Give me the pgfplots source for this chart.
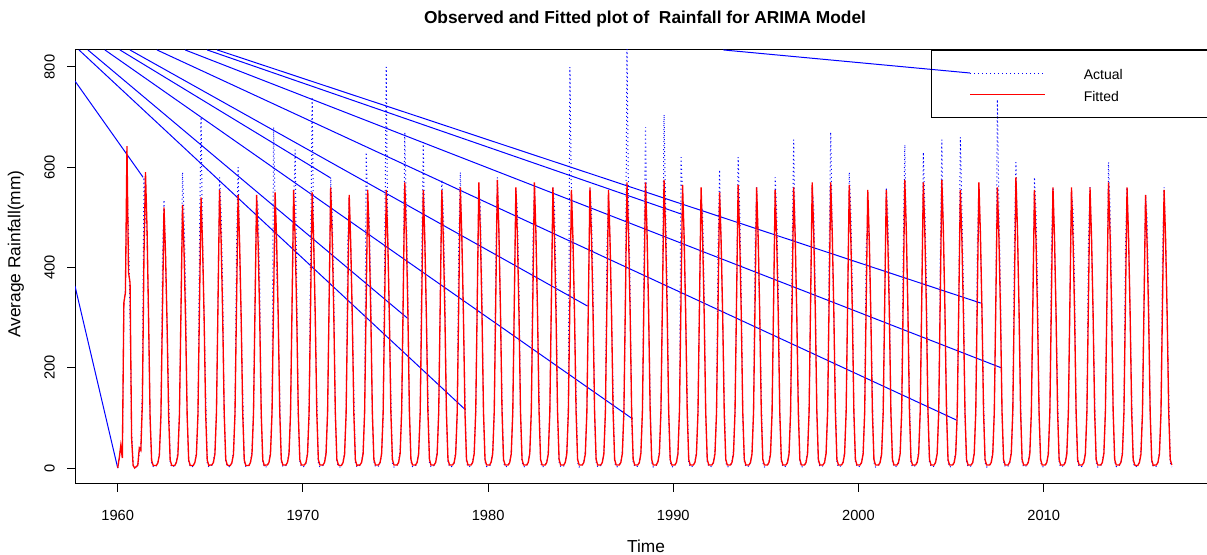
\documentclass[border=0pt]{standalone}
\usepackage{fontspec}
\setmainfont{Liberation Sans}
\usepackage{pgfplots}
\pgfplotsset{compat=1.18}
\usepackage{pgfplotstable}

\pgfplotstableread[row sep=\\]{
t a f\\
1960.000 0 0\\1960.083 18 20\\1960.167 42 45\\1960.250 22 20\\1960.333 320 330\\1960.417 360 350\\1960.500 565 642\\1960.583 470 390\\1960.667 300 370\\1960.750 75 60\\1960.833 6 5\\1960.917 2 0\\
1961.000 2 3\\1961.083 4 5\\1961.167 30 40\\1961.250 45 35\\1961.333 160 130\\1961.417 580 420\\1961.500 500 590\\1961.583 460 480\\1961.667 290 300\\1961.750 90 100\\1961.833 10 15\\1961.917 3 5\\
1962.000 2 5\\1962.083 4 5\\1962.167 10 10\\1962.250 30 26\\1962.333 95 104\\1962.417 420 312\\1962.500 535 520\\1962.583 420 426\\1962.667 280 286\\1962.750 150 104\\1962.833 10 16\\1962.917 2 5\\
1963.000 3 5\\1963.083 5 5\\1963.167 12 11\\1963.250 35 26\\1963.333 110 105\\1963.417 320 315\\1963.500 590 525\\1963.583 500 431\\1963.667 360 289\\1963.750 100 105\\1963.833 12 16\\1963.917 3 5\\
1964.000 2 5\\1964.083 4 5\\1964.167 11 11\\1964.250 30 27\\1964.333 100 108\\1964.417 450 324\\1964.500 700 540\\1964.583 450 443\\1964.667 300 297\\1964.750 150 108\\1964.833 11 16\\1964.917 2 5\\
1965.000 3 6\\1965.083 6 6\\1965.167 12 11\\1965.250 36 28\\1965.333 115 111\\1965.417 350 333\\1965.500 580 555\\1965.583 510 455\\1965.667 360 305\\1965.750 105 111\\1965.833 14 17\\1965.917 4 6\\
1966.000 2 5\\1966.083 5 5\\1966.167 10 11\\1966.250 32 27\\1966.333 105 109\\1966.417 440 327\\1966.500 600 545\\1966.583 430 447\\1966.667 290 300\\1966.750 150 109\\1966.833 12 16\\1966.917 3 5\\
1967.000 3 5\\1967.083 5 5\\1967.167 12 11\\1967.250 34 27\\1967.333 110 109\\1967.417 335 327\\1967.500 540 545\\1967.583 520 447\\1967.667 370 300\\1967.750 100 109\\1967.833 10 16\\1967.917 2 5\\
1968.000 2 6\\1968.083 4 6\\1968.167 11 11\\1968.250 35 28\\1968.333 120 110\\1968.417 680 330\\1968.500 520 550\\1968.583 390 451\\1968.667 295 303\\1968.750 150 110\\1968.833 12 17\\1968.917 3 6\\
1969.000 3 6\\1969.083 5 6\\1969.167 12 11\\1969.250 33 28\\1969.333 105 111\\1969.417 330 333\\1969.500 520 555\\1969.583 635 455\\1969.667 360 305\\1969.750 100 111\\1969.833 12 17\\1969.917 3 6\\
1970.000 2 6\\1970.083 4 6\\1970.167 10 11\\1970.250 30 28\\1970.333 100 110\\1970.417 430 330\\1970.500 740 550\\1970.583 450 451\\1970.667 300 303\\1970.750 140 110\\1970.833 10 17\\1970.917 2 6\\
1971.000 3 6\\1971.083 5 6\\1971.167 12 11\\1971.250 36 28\\1971.333 110 112\\1971.417 340 336\\1971.500 580 560\\1971.583 500 459\\1971.667 350 308\\1971.750 105 112\\1971.833 12 17\\1971.917 3 6\\
1972.000 2 5\\1972.083 5 5\\1972.167 11 11\\1972.250 32 27\\1972.333 105 109\\1972.417 450 327\\1972.500 540 545\\1972.583 440 447\\1972.667 295 300\\1972.750 150 109\\1972.833 11 16\\1972.917 2 5\\
1973.000 3 6\\1973.083 6 6\\1973.167 12 11\\1973.250 35 28\\1973.333 115 111\\1973.417 630 333\\1973.500 520 555\\1973.583 500 455\\1973.667 360 305\\1973.750 100 111\\1973.833 12 17\\1973.917 3 6\\
1974.000 2 6\\1974.083 4 6\\1974.167 10 11\\1974.250 30 28\\1974.333 100 111\\1974.417 420 333\\1974.500 800 555\\1974.583 450 455\\1974.667 300 305\\1974.750 145 111\\1974.833 10 17\\1974.917 2 6\\
1975.000 3 6\\1975.083 5 6\\1975.167 12 11\\1975.250 35 29\\1975.333 110 114\\1975.417 340 342\\1975.500 670 570\\1975.583 520 467\\1975.667 360 314\\1975.750 105 114\\1975.833 12 17\\1975.917 3 6\\
1976.000 2 6\\1976.083 4 6\\1976.167 11 11\\1976.250 33 28\\1976.333 105 111\\1976.417 440 333\\1976.500 650 555\\1976.583 445 455\\1976.667 300 305\\1976.750 150 111\\1976.833 11 17\\1976.917 2 6\\
1977.000 3 6\\1977.083 5 6\\1977.167 12 11\\1977.250 34 28\\1977.333 110 111\\1977.417 330 333\\1977.500 575 555\\1977.583 510 455\\1977.667 365 305\\1977.750 100 111\\1977.833 12 17\\1977.917 3 6\\
1978.000 2 6\\1978.083 5 6\\1978.167 10 11\\1978.250 32 28\\1978.333 105 112\\1978.417 450 336\\1978.500 590 560\\1978.583 450 459\\1978.667 300 308\\1978.750 150 112\\1978.833 11 17\\1978.917 2 6\\
1979.000 3 6\\1979.083 6 6\\1979.167 12 11\\1979.250 35 29\\1979.333 110 114\\1979.417 340 342\\1979.500 560 570\\1979.583 520 467\\1979.667 360 314\\1979.750 105 114\\1979.833 12 17\\1979.917 3 6\\
1980.000 2 6\\1980.083 4 6\\1980.167 11 12\\1980.250 33 29\\1980.333 105 115\\1980.417 430 345\\1980.500 580 575\\1980.583 470 472\\1980.667 310 316\\1980.750 140 115\\1980.833 11 17\\1980.917 2 6\\
1981.000 3 6\\1981.083 5 6\\1981.167 12 11\\1981.250 34 28\\1981.333 110 112\\1981.417 335 336\\1981.500 555 560\\1981.583 510 459\\1981.667 360 308\\1981.750 105 112\\1981.833 12 17\\1981.917 3 6\\
1982.000 2 6\\1982.083 5 6\\1982.167 10 11\\1982.250 32 29\\1982.333 105 114\\1982.417 450 342\\1982.500 565 570\\1982.583 460 467\\1982.667 305 314\\1982.750 150 114\\1982.833 11 17\\1982.917 2 6\\
1983.000 3 6\\1983.083 6 6\\1983.167 12 11\\1983.250 35 28\\1983.333 110 112\\1983.417 335 336\\1983.500 560 560\\1983.583 520 459\\1983.667 370 308\\1983.750 105 112\\1983.833 12 17\\1983.917 3 6\\
1984.000 2 6\\1984.083 4 6\\1984.167 11 11\\1984.250 33 28\\1984.333 120 111\\1984.417 800 333\\1984.500 540 555\\1984.583 445 455\\1984.667 300 305\\1984.750 150 111\\1984.833 11 17\\1984.917 2 6\\
1985.000 3 6\\1985.083 5 6\\1985.167 12 11\\1985.250 34 28\\1985.333 110 112\\1985.417 335 336\\1985.500 555 560\\1985.583 510 459\\1985.667 355 308\\1985.750 105 112\\1985.833 12 17\\1985.917 3 6\\
1986.000 2 6\\1986.083 5 6\\1986.167 10 11\\1986.250 32 28\\1986.333 105 111\\1986.417 440 333\\1986.500 540 555\\1986.583 450 455\\1986.667 300 305\\1986.750 150 111\\1986.833 11 17\\1986.917 2 6\\
1987.000 3 6\\1987.083 6 6\\1987.167 12 11\\1987.250 35 29\\1987.333 110 114\\1987.417 340 342\\1987.500 840 570\\1987.583 520 467\\1987.667 360 314\\1987.750 105 114\\1987.833 12 17\\1987.917 3 6\\
1988.000 2 6\\1988.083 4 6\\1988.167 11 11\\1988.250 33 29\\1988.333 105 114\\1988.417 430 342\\1988.500 680 570\\1988.583 460 467\\1988.667 305 314\\1988.750 145 114\\1988.833 11 17\\1988.917 2 6\\
1989.000 3 6\\1989.083 5 6\\1989.167 12 12\\1989.250 34 29\\1989.333 110 115\\1989.417 345 345\\1989.500 705 575\\1989.583 520 472\\1989.667 365 316\\1989.750 105 115\\1989.833 12 17\\1989.917 3 6\\
1990.000 2 6\\1990.083 5 6\\1990.167 10 11\\1990.250 32 28\\1990.333 115 113\\1990.417 620 339\\1990.500 545 565\\1990.583 455 463\\1990.667 305 311\\1990.750 150 113\\1990.833 11 17\\1990.917 2 6\\
1991.000 3 6\\1991.083 6 6\\1991.167 12 11\\1991.250 35 28\\1991.333 110 112\\1991.417 335 336\\1991.500 530 560\\1991.583 510 459\\1991.667 360 308\\1991.750 105 112\\1991.833 12 17\\1991.917 3 6\\
1992.000 2 6\\1992.083 4 6\\1992.167 11 11\\1992.250 33 28\\1992.333 105 110\\1992.417 440 330\\1992.500 595 550\\1992.583 445 451\\1992.667 300 303\\1992.750 150 110\\1992.833 11 17\\1992.917 2 6\\
1993.000 3 6\\1993.083 5 6\\1993.167 12 11\\1993.250 34 28\\1993.333 110 113\\1993.417 340 339\\1993.500 620 565\\1993.583 520 463\\1993.667 360 311\\1993.750 105 113\\1993.833 12 17\\1993.917 3 6\\
1994.000 2 6\\1994.083 5 6\\1994.167 10 11\\1994.250 32 28\\1994.333 105 112\\1994.417 450 336\\1994.500 560 560\\1994.583 450 459\\1994.667 300 308\\1994.750 150 112\\1994.833 11 17\\1994.917 2 6\\
1995.000 3 6\\1995.083 6 6\\1995.167 12 11\\1995.250 35 28\\1995.333 110 111\\1995.417 335 333\\1995.500 580 555\\1995.583 510 455\\1995.667 360 305\\1995.750 105 111\\1995.833 12 17\\1995.917 3 6\\
1996.000 2 6\\1996.083 4 6\\1996.167 11 11\\1996.250 33 28\\1996.333 105 112\\1996.417 430 336\\1996.500 655 560\\1996.583 455 459\\1996.667 305 308\\1996.750 145 112\\1996.833 11 17\\1996.917 2 6\\
1997.000 3 6\\1997.083 5 6\\1997.167 12 11\\1997.250 34 29\\1997.333 110 114\\1997.417 340 342\\1997.500 560 570\\1997.583 520 467\\1997.667 365 314\\1997.750 105 114\\1997.833 12 17\\1997.917 3 6\\
1998.000 2 6\\1998.083 5 6\\1998.167 10 11\\1998.250 32 29\\1998.333 105 114\\1998.417 445 342\\1998.500 670 570\\1998.583 460 467\\1998.667 305 314\\1998.750 150 114\\1998.833 11 17\\1998.917 2 6\\
1999.000 3 6\\1999.083 6 6\\1999.167 12 11\\1999.250 35 28\\1999.333 110 113\\1999.417 340 339\\1999.500 590 565\\1999.583 515 463\\1999.667 360 311\\1999.750 105 113\\1999.833 12 17\\1999.917 3 6\\
2000.000 2 6\\2000.083 4 6\\2000.167 11 11\\2000.250 33 28\\2000.333 105 111\\2000.417 440 333\\2000.500 500 555\\2000.583 450 455\\2000.667 300 305\\2000.750 150 111\\2000.833 11 17\\2000.917 2 6\\
2001.000 3 6\\2001.083 5 6\\2001.167 12 11\\2001.250 34 28\\2001.333 110 111\\2001.417 335 333\\2001.500 560 555\\2001.583 510 455\\2001.667 360 305\\2001.750 105 111\\2001.833 12 17\\2001.917 3 6\\
2002.000 2 6\\2002.083 5 6\\2002.167 10 12\\2002.250 32 29\\2002.333 105 115\\2002.417 440 345\\2002.500 645 575\\2002.583 465 472\\2002.667 310 316\\2002.750 150 115\\2002.833 11 17\\2002.917 2 6\\
2003.000 3 6\\2003.083 6 6\\2003.167 12 11\\2003.250 35 29\\2003.333 110 114\\2003.417 340 342\\2003.500 630 570\\2003.583 520 467\\2003.667 365 314\\2003.750 105 114\\2003.833 12 17\\2003.917 3 6\\
2004.000 2 6\\2004.083 4 6\\2004.167 11 12\\2004.250 33 29\\2004.333 105 115\\2004.417 430 345\\2004.500 655 575\\2004.583 465 472\\2004.667 310 316\\2004.750 145 115\\2004.833 11 17\\2004.917 2 6\\
2005.000 3 6\\2005.083 5 6\\2005.167 12 11\\2005.250 34 28\\2005.333 110 111\\2005.417 335 333\\2005.500 660 555\\2005.583 510 455\\2005.667 360 305\\2005.750 105 111\\2005.833 12 17\\2005.917 3 6\\
2006.000 2 6\\2006.083 5 6\\2006.167 10 11\\2006.250 32 29\\2006.333 105 114\\2006.417 450 342\\2006.500 560 570\\2006.583 460 467\\2006.667 305 314\\2006.750 150 114\\2006.833 11 17\\2006.917 2 6\\
2007.000 3 6\\2007.083 6 6\\2007.167 12 11\\2007.250 35 28\\2007.333 110 112\\2007.417 335 336\\2007.500 735 560\\2007.583 515 459\\2007.667 360 308\\2007.750 105 112\\2007.833 12 17\\2007.917 3 6\\
2008.000 2 6\\2008.083 4 6\\2008.167 11 12\\2008.250 33 29\\2008.333 105 116\\2008.417 440 348\\2008.500 610 580\\2008.583 470 476\\2008.667 315 319\\2008.750 150 116\\2008.833 11 17\\2008.917 2 6\\
2009.000 3 6\\2009.083 5 6\\2009.167 12 11\\2009.250 34 28\\2009.333 110 111\\2009.417 335 333\\2009.500 580 555\\2009.583 510 455\\2009.667 360 305\\2009.750 105 111\\2009.833 12 17\\2009.917 3 6\\
2010.000 2 6\\2010.083 5 6\\2010.167 10 11\\2010.250 32 28\\2010.333 105 112\\2010.417 440 336\\2010.500 560 560\\2010.583 455 459\\2010.667 305 308\\2010.750 150 112\\2010.833 11 17\\2010.917 2 6\\
2011.000 3 6\\2011.083 6 6\\2011.167 12 11\\2011.250 35 28\\2011.333 110 112\\2011.417 335 336\\2011.500 550 560\\2011.583 515 459\\2011.667 365 308\\2011.750 105 112\\2011.833 12 17\\2011.917 3 6\\
2012.000 2 6\\2012.083 4 6\\2012.167 11 11\\2012.250 33 28\\2012.333 105 112\\2012.417 450 336\\2012.500 560 560\\2012.583 455 459\\2012.667 305 308\\2012.750 150 112\\2012.833 11 17\\2012.917 2 6\\
2013.000 3 6\\2013.083 5 6\\2013.167 12 11\\2013.250 34 29\\2013.333 110 114\\2013.417 340 342\\2013.500 610 570\\2013.583 520 467\\2013.667 360 314\\2013.750 105 114\\2013.833 12 17\\2013.917 3 6\\
2014.000 2 6\\2014.083 5 6\\2014.167 10 11\\2014.250 32 28\\2014.333 105 112\\2014.417 440 336\\2014.500 560 560\\2014.583 455 459\\2014.667 305 308\\2014.750 150 112\\2014.833 11 17\\2014.917 2 6\\
2015.000 3 5\\2015.083 6 5\\2015.167 12 11\\2015.250 35 27\\2015.333 110 109\\2015.417 325 327\\2015.500 545 545\\2015.583 500 447\\2015.667 355 300\\2015.750 105 109\\2015.833 12 16\\2015.917 3 5\\
2016.000 2 6\\2016.083 4 6\\2016.167 11 11\\2016.250 33 28\\2016.333 105 111\\2016.417 430 333\\2016.500 560 555\\2016.583 450 455\\2016.667 300 305\\2016.750 150 111\\2016.833 11 17\\2016.917 2 6\\
}\rain

\begin{document}
\begin{tikzpicture}
\begin{axis}[
  at={(56.25pt,53.25pt)}, anchor=south west,
  scale only axis, width=855pt, height=325.5pt,
  xmin=1957.694, xmax=2019.25, ymin=-31.9, ymax=833.9,
  xtick={1960,1970,1980,1990,2000,2010},
  ytick={0,200,400,600,800},
  minor tick num=0,
  tick align=outside, major tick length=6pt,
  xtick pos=bottom, ytick pos=left,
  tick style={black, line width=0.75pt},
  axis line style={black, line width=0.75pt},
  /pgf/number format/1000 sep={},
  /pgf/number format/assume math mode=true,
  ticklabel style={font=\fontsize{11}{13}\selectfont},
  xticklabel style={yshift=-10.5pt},
  yticklabel style={rotate=90, anchor=south, inner ysep=8.9pt},
  xlabel={Time}, ylabel={Average Rainfall(mm)},
  label style={font=\fontsize{13}{15}\selectfont},
  xlabel style={at={(axis description cs:0.5009,-0.1429)}, anchor=center},
  ylabel style={at={(axis description cs:-0.0518,0.53)}, anchor=center},
  title={Observed and Fitted plot of\ \ Rainfall for ARIMA Model},
  title style={at={(axis description cs:0.5,1.053)}, anchor=center, font=\bfseries\fontsize{13}{15}\selectfont},
  legend style={at={(axis cs:2003.9,833.9)}, anchor=north west, draw=black, line width=0.75pt, fill=none,
    inner xsep=28.7pt, inner ysep=11.5pt, row sep=5pt, font=\fontsize{10.5}{12}\selectfont,
    nodes={inner sep=0pt, text height=10.6pt, text depth=0.5pt},
    /tikz/every odd column/.append style={column sep=28.5pt}},
  legend cell align=left,
  legend image code/.code={\draw[#1] (0pt,0pt) -- (56.25pt,0pt);},
]
\addplot[blue, line width=0.75pt, dash pattern=on 0.75pt off 2.25pt] table[x=t,y=a]{\rain};
\addlegendentry{\makebox[100pt][l]{Actual}}
\addplot[blue, line width=0.75pt, forget plot] coordinates {(1957.694,363) (1960.0,0)};
\addplot[blue, line width=0.75pt, forget plot] coordinates {(1957.694,772) (1961.37,580)};
\addplot[blue, line width=0.75pt, forget plot] coordinates {(1957.91,834) (1978.78,116)};
\addplot[blue, line width=0.75pt, forget plot] coordinates {(1958.39,834) (1975.64,299)};
\addplot[blue, line width=0.75pt, forget plot] coordinates {(1959.31,834) (1987.80,98)};
\addplot[blue, line width=0.75pt, forget plot] coordinates {(1960.12,834) (1971.48,579)};
\addplot[blue, line width=0.75pt, forget plot] coordinates {(1960.66,834) (1985.37,323)};
\addplot[blue, line width=0.75pt, forget plot] coordinates {(1962.12,834) (2005.27,96)};
\addplot[blue, line width=0.75pt, forget plot] coordinates {(1963.64,834) (2007.70,200)};
\addplot[blue, line width=0.75pt, forget plot] coordinates {(1964.83,834) (1990.56,505)};
\addplot[blue, line width=0.75pt, forget plot] coordinates {(1965.37,834) (2006.60,329)};
\addplot[blue, line width=0.75pt, forget plot] coordinates {(1992.70,834) (2006.02,788)};
\addplot[red, line width=1pt] table[x=t,y=f]{\rain};
\addlegendentry{\makebox[100pt][l]{Fitted}}
\end{axis}
\pgfresetboundingbox
\useasboundingbox (0,0) rectangle (905.25pt,416.25pt);
\end{tikzpicture}
\end{document}
